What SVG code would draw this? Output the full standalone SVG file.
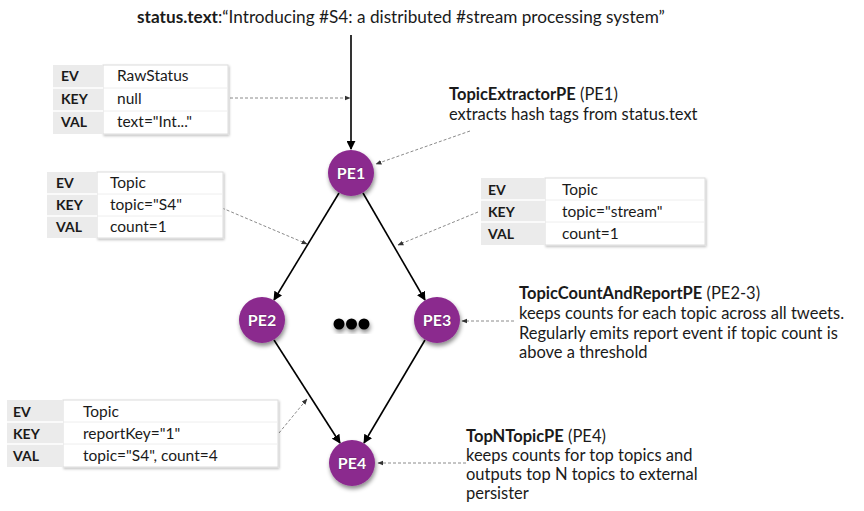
<svg xmlns="http://www.w3.org/2000/svg" width="864" height="511" viewBox="0 0 864 511">
<defs>
<style>
text{font-family:Lato,"Open Sans","DejaVu Sans",sans-serif;fill:#1a1a1a;font-size:15.5px}
.d{font-size:16.5px}
.t{font-size:17.2px}
.b{font-weight:bold}
.k{font-weight:bold;font-size:14px}
.pe{fill:#fff;font-weight:bold;font-size:16px;text-anchor:middle;stroke:#4a104c;stroke-width:0.6px;paint-order:stroke}
.lc{fill:#ebebeb}
.rc{fill:#fff;stroke:#dcdcdc;stroke-width:1}
.sep{stroke:#fff;stroke-width:1.5}
.sepr{stroke:#eeeeee;stroke-width:1}
.solid{stroke:#000;stroke-width:1.6;fill:none}
.dash{stroke:#8a8a8a;stroke-width:1;stroke-dasharray:3 2;fill:none}
.node{fill:#8b2a8e}
</style>
<marker id="ah" viewBox="0 0 10 10" refX="9" refY="5" markerWidth="9" markerHeight="9" markerUnits="userSpaceOnUse" orient="auto"><path d="M0,0 L10,5 L0,10 z" fill="#000"/></marker>
<marker id="dh" viewBox="0 0 10 10" refX="9" refY="5" markerWidth="6" markerHeight="6" markerUnits="userSpaceOnUse" orient="auto"><path d="M0,1 L10,5 L0,9 z" fill="#333"/></marker>
<filter id="sh" x="-40%" y="-40%" width="180%" height="180%"><feDropShadow dx="1" dy="3" stdDeviation="2" flood-color="#000" flood-opacity="0.45"/></filter>
<filter id="tsh" x="-10%" y="-10%" width="130%" height="140%"><feDropShadow dx="1" dy="1.5" stdDeviation="1" flood-color="#000" flood-opacity="0.25"/></filter>
</defs>
<rect width="864" height="511" fill="#fff"/>

<g id="title">
<text class="t" x="137" y="23"><tspan class="b">status.text</tspan>:“Introducing #S4: a distributed #stream processing system”</text>
</g>

<g id="connectors">
<line class="solid" x1="351" y1="35" x2="351" y2="149" marker-end="url(#ah)"/>
<line class="solid" x1="339" y1="193" x2="274" y2="300" marker-end="url(#ah)"/>
<line class="solid" x1="363" y1="193" x2="425" y2="300" marker-end="url(#ah)"/>
<line class="solid" x1="274" y1="340" x2="340" y2="443" marker-end="url(#ah)"/>
<line class="solid" x1="425" y1="340" x2="364" y2="443" marker-end="url(#ah)"/>
<line class="dash" x1="230" y1="98" x2="350" y2="98" marker-end="url(#dh)"/>
<line class="dash" x1="470" y1="131" x2="376" y2="164" marker-end="url(#dh)"/>
<line class="dash" x1="222" y1="208" x2="307" y2="244" marker-end="url(#dh)"/>
<line class="dash" x1="478" y1="212" x2="398" y2="245" marker-end="url(#dh)"/>
<line class="dash" x1="514" y1="321" x2="462" y2="321" marker-end="url(#dh)"/>
<line class="dash" x1="279" y1="433" x2="307" y2="399" marker-end="url(#dh)"/>
<line class="dash" x1="466" y1="463" x2="378" y2="463" marker-end="url(#dh)"/>
</g>

<g id="PE1"><circle class="node" cx="351" cy="173" r="23" filter="url(#sh)"/><text class="pe" x="351" y="179">PE1</text></g>
<g id="PE2"><circle class="node" cx="262" cy="320" r="23" filter="url(#sh)"/><text class="pe" x="262" y="326">PE2</text></g>
<g id="PE3"><circle class="node" cx="437" cy="320" r="23" filter="url(#sh)"/><text class="pe" x="437" y="326">PE3</text></g>
<g id="PE4"><circle class="node" cx="352" cy="463" r="23" filter="url(#sh)"/><text class="pe" x="352" y="469">PE4</text></g>

<g id="ellipsis" filter="url(#sh)">
<circle cx="339" cy="324" r="5.5" fill="#000"/>
<circle cx="351.5" cy="324" r="5.5" fill="#000"/>
<circle cx="364" cy="324" r="5.5" fill="#000"/>
</g>

<g id="table1">
<g filter="url(#tsh)"><rect class="rc" x="103" y="65" width="125" height="69"/></g>
<rect class="lc" x="53" y="65" width="50" height="69"/>
<line class="sep" x1="53" y1="88" x2="103" y2="88"/><line class="sep" x1="53" y1="111" x2="103" y2="111"/>
<line class="sepr" x1="104" y1="88" x2="227" y2="88"/><line class="sepr" x1="104" y1="111" x2="227" y2="111"/>
<text class="k" x="61" y="81">EV</text><text class="k" x="61" y="104">KEY</text><text class="k" x="61" y="127">VAL</text>
<text x="117" y="81">RawStatus</text><text x="117" y="104">null</text><text x="117" y="127">text="Int..."</text>
</g>

<g id="table2">
<g filter="url(#tsh)"><rect class="rc" x="97" y="172" width="126" height="66"/></g>
<rect class="lc" x="47" y="172" width="50" height="66"/>
<line class="sep" x1="47" y1="194" x2="97" y2="194"/><line class="sep" x1="47" y1="216" x2="97" y2="216"/>
<line class="sepr" x1="98" y1="194" x2="222" y2="194"/><line class="sepr" x1="98" y1="216" x2="222" y2="216"/>
<text class="k" x="56" y="188">EV</text><text class="k" x="56" y="210">KEY</text><text class="k" x="56" y="232">VAL</text>
<text x="110" y="188">Topic</text><text x="110" y="210">topic="S4"</text><text x="110" y="232">count=1</text>
</g>

<g id="table3">
<g filter="url(#tsh)"><rect class="rc" x="545" y="178" width="160" height="67"/></g>
<rect class="lc" x="481" y="178" width="64" height="67"/>
<line class="sep" x1="481" y1="200" x2="545" y2="200"/><line class="sep" x1="481" y1="222" x2="545" y2="222"/>
<line class="sepr" x1="546" y1="200" x2="704" y2="200"/><line class="sepr" x1="546" y1="222" x2="704" y2="222"/>
<text class="k" x="488" y="195">EV</text><text class="k" x="488" y="217">KEY</text><text class="k" x="488" y="239">VAL</text>
<text x="562" y="195">Topic</text><text x="562" y="217">topic="stream"</text><text x="562" y="239">count=1</text>
</g>

<g id="table4">
<g filter="url(#tsh)"><rect class="rc" x="63" y="400" width="215" height="67"/></g>
<rect class="lc" x="7" y="400" width="56" height="67"/>
<line class="sep" x1="7" y1="422" x2="63" y2="422"/><line class="sep" x1="7" y1="444" x2="63" y2="444"/>
<line class="sepr" x1="64" y1="422" x2="277" y2="422"/><line class="sepr" x1="64" y1="444" x2="277" y2="444"/>
<text class="k" x="13" y="417">EV</text><text class="k" x="13" y="439">KEY</text><text class="k" x="13" y="461">VAL</text>
<text x="83" y="417">Topic</text><text x="83" y="439">reportKey="1"</text><text x="83" y="461">topic="S4", count=4</text>
</g>

<g id="desc1">
<text class="d" x="449" y="100"><tspan class="b">TopicExtractorPE</tspan> (PE1)</text>
<text class="d" x="449" y="120">extracts hash tags from status.text</text>
</g>
<g id="desc2">
<text class="d" x="519" y="299"><tspan class="b">TopicCountAndReportPE</tspan> (PE2-3)</text>
<text class="d" x="519" y="319">keeps counts for each topic across all tweets.</text>
<text class="d" x="519" y="339">Regularly emits report event if topic count is</text>
<text class="d" x="519" y="358">above a threshold</text>
</g>
<g id="desc3">
<text class="d" x="466" y="442"><tspan class="b">TopNTopicPE</tspan> (PE4)</text>
<text class="d" x="466" y="461">keeps counts for top topics and</text>
<text class="d" x="466" y="480">outputs top N topics to external</text>
<text class="d" x="466" y="499">persister</text>
</g>
</svg>
